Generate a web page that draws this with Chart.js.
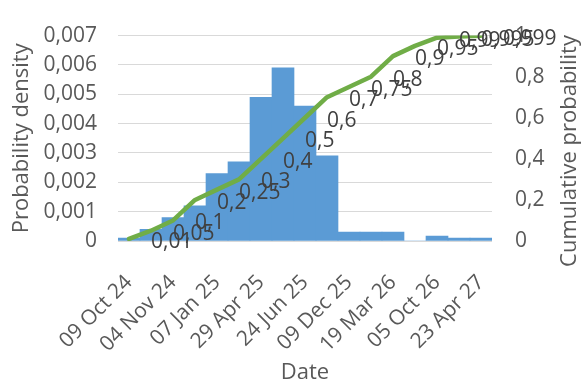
<!DOCTYPE html>
<html>
<head>
<meta charset="utf-8">
<script src="https://cdn.jsdelivr.net/npm/chart.js@4/dist/chart.umd.min.js"></script>
<style>
  html, body { margin: 0; padding: 0; background: #ffffff; }
  canvas { display: block; }
</style>
</head>
<body>
<canvas id="chart" width="583" height="385"></canvas>
<script>
// Dates shown under every other bin (quantile dates)
const tickDates = ['09 Oct 24', '04 Nov 24', '07 Jan 25', '29 Apr 25', '24 Jun 25',
                   '09 Dec 25', '19 Mar 26', '05 Oct 26', '23 Apr 27'];

// Probability density of each bin
const density = [0.0001, 0.0004, 0.0008, 0.0012, 0.0023, 0.0027, 0.0049, 0.0059, 0.0046,
                 0.0029, 0.0003, 0.0003, 0.0003, 0, 0.00017, 0.0001, 0.0001];

// Cumulative probability at each bin
const cumulative = [0.01, 0.05, 0.1, 0.2, 0.25, 0.3, 0.4, 0.5, 0.6, 0.7, 0.75, 0.8,
                    0.9, 0.95, 0.99, 0.995, 0.999];

// One category per bin; only every other one carries a date label
const categories = cumulative.map((_, i) => (i % 2 === 0 ? tickDates[i / 2] : ''));

const FONT = "'Open Sans', 'Noto Sans', sans-serif";
const AXIS_TEXT = '#595959';
const LABEL_TEXT = '#404040';

// Decimal comma formatting
const fmt = v => String(+(+v).toFixed(5)).replace('.', ',');

// Values written beside each point of the cumulative line
const pointLabels = {
  id: 'pointLabels',
  afterDatasetsDraw(chart) {
    const ctx = chart.ctx;
    const meta = chart.getDatasetMeta(1);
    ctx.save();
    ctx.font = '21px ' + FONT;
    ctx.fillStyle = LABEL_TEXT;
    ctx.textAlign = 'left';
    ctx.textBaseline = 'middle';
    meta.data.forEach((pt, i) => {
      ctx.fillText(fmt(cumulative[i]), pt.x + 22, pt.y + 3);
    });
    ctx.restore();
  }
};

// Axis titles
const axisTitles = {
  id: 'axisTitles',
  afterDraw(chart) {
    const ctx = chart.ctx;
    const area = chart.chartArea;
    ctx.save();
    ctx.font = '22px ' + FONT;
    ctx.fillStyle = AXIS_TEXT;
    ctx.textAlign = 'center';
    ctx.textBaseline = 'middle';

    ctx.fillText('Date', (area.left + area.right) / 2, 373);

    ctx.save();
    ctx.translate(22, (area.top + area.bottom) / 2);
    ctx.rotate(-Math.PI / 2);
    ctx.fillText('Probability density', 0, 0);
    ctx.restore();

    ctx.save();
    ctx.translate(570, 151);
    ctx.rotate(-Math.PI / 2);
    ctx.fillText('Cumulative probability', 0, 0);
    ctx.restore();

    ctx.restore();
  }
};

new Chart(document.getElementById('chart'), {
  data: {
    labels: categories,
    datasets: [
      {
        type: 'bar',
        label: 'Probability density',
        data: density,
        yAxisID: 'y',
        backgroundColor: '#5B9BD5',
        borderWidth: 0,
        barPercentage: 1.0,
        categoryPercentage: 1.0,
        order: 2
      },
      {
        type: 'line',
        label: 'Cumulative probability',
        data: cumulative,
        yAxisID: 'y2',
        borderColor: '#70AD47',
        borderWidth: 4.5,
        pointRadius: 0,
        tension: 0,
        borderJoinStyle: 'round',
        borderCapStyle: 'round',
        fill: false,
        order: 1
      }
    ]
  },
  options: {
    responsive: false,
    devicePixelRatio: 1,
    animation: false,
    layout: { padding: { top: 20, left: 0, right: 0, bottom: 0 } },
    plugins: {
      legend: { display: false },
      tooltip: { enabled: false }
    },
    scales: {
      x: {
        type: 'category',
        offset: true,
        grid: { display: false },
        border: { display: false },
        ticks: {
          autoSkip: false,
          maxRotation: 45,
          minRotation: 45,
          padding: 21,
          color: AXIS_TEXT,
          font: { family: FONT, size: 21 }
        },
        afterFit(scale) { scale.height = 144; }
      },
      y: {
        position: 'left',
        min: 0,
        max: 0.007,
        grid: { color: '#D9D9D9', lineWidth: 1, drawTicks: false },
        border: { display: false },
        ticks: {
          stepSize: 0.001,
          padding: 21,
          color: AXIS_TEXT,
          font: { family: FONT, size: 21 },
          callback: v => fmt(v)
        },
        afterFit(scale) { scale.width = 118; }
      },
      y2: {
        position: 'right',
        min: 0,
        max: 1,
        grid: { display: false, drawTicks: false },
        border: { display: false },
        ticks: {
          stepSize: 0.2,
          padding: 23,
          color: AXIS_TEXT,
          font: { family: FONT, size: 21 },
          callback: v => fmt(v)
        },
        afterFit(scale) { scale.width = 91; }
      }
    }
  },
  plugins: [pointLabels, axisTitles]
});
</script>
</body>
</html>
